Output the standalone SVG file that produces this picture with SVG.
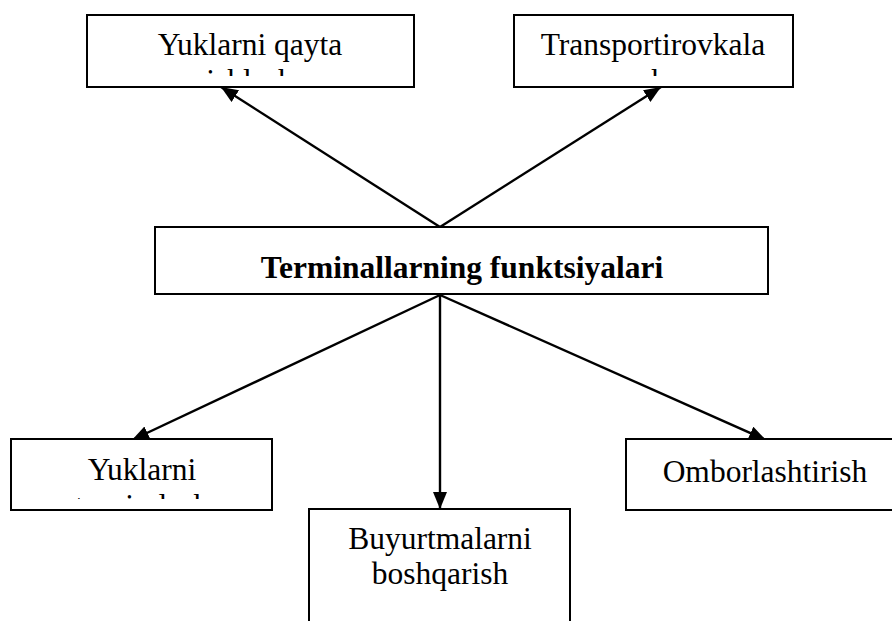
<svg xmlns="http://www.w3.org/2000/svg" width="892" height="621" viewBox="0 0 892 621">
  <style>
    .box { fill: #ffffff; stroke: #000000; stroke-width: 2; }
    .lbl { font-family: "Liberation Serif", "Times New Roman", serif; font-size: 31.5px; fill: #000000; text-anchor: middle; }
    .bold { font-weight: bold; }
    .edge { stroke: #000000; stroke-width: 2.4; fill: none; marker-end: url(#arrow); }
  </style>
  <defs>
    <marker id="arrow" markerUnits="userSpaceOnUse" markerWidth="18" markerHeight="15" refX="17" refY="7" orient="auto">
      <path d="M0,0 L17,7 L0,14 Z" fill="#000000"/>
    </marker>
    <!-- text areas inside the boxes; overflowing second lines are cut off -->
    <clipPath id="clip-processing"><rect x="88" y="16" width="325" height="60"/></clipPath>
    <clipPath id="clip-transport"><rect x="515" y="16" width="277" height="60"/></clipPath>
    <clipPath id="clip-distribution"><rect x="12" y="440" width="259" height="59"/></clipPath>
  </defs>
  <rect width="892" height="621" fill="#ffffff"/>

  <!-- connectors -->
  <g id="connectors">
    <line class="edge" x1="440" y1="227" x2="221" y2="87"/>
    <line class="edge" x1="440" y1="227" x2="661" y2="87"/>
    <line class="edge" x1="440" y1="295" x2="132" y2="440"/>
    <line class="edge" x1="440" y1="295" x2="440" y2="509"/>
    <line class="edge" x1="440" y1="295" x2="766" y2="440"/>
  </g>

  <g id="node-center">
    <rect class="box" x="155" y="227" width="613" height="67"/>
    <text class="lbl bold" x="462" y="278">Terminallarning funktsiyalari</text>
  </g>

  <g id="node-processing">
    <rect class="box" x="87" y="15" width="327" height="72"/>
    <g clip-path="url(#clip-processing)">
      <text class="lbl" x="250" y="55">Yuklarni qayta</text>
      <text class="lbl" x="250" y="91">ishlash</text>
    </g>
  </g>

  <g id="node-transport">
    <rect class="box" x="514" y="15" width="279" height="72"/>
    <g clip-path="url(#clip-transport)">
      <text class="lbl" x="653" y="55">Transportirovkala</text>
      <text class="lbl" x="653" y="91">sh</text>
    </g>
  </g>

  <g id="node-distribution">
    <rect class="box" x="11" y="439" width="261" height="71"/>
    <g clip-path="url(#clip-distribution)">
      <text class="lbl" x="142" y="480">Yuklarni</text>
      <text class="lbl" x="142" y="516">taqsimlash</text>
    </g>
  </g>

  <g id="node-orders">
    <rect class="box" x="309" y="509" width="261" height="140"/>
    <text class="lbl" x="440" y="549">Buyurtmalarni</text>
    <text class="lbl" x="440" y="584">boshqarish</text>
  </g>

  <g id="node-storage">
    <rect class="box" x="626" y="439" width="300" height="71"/>
    <text class="lbl" x="765" y="482">Omborlashtirish</text>
  </g>
</svg>
